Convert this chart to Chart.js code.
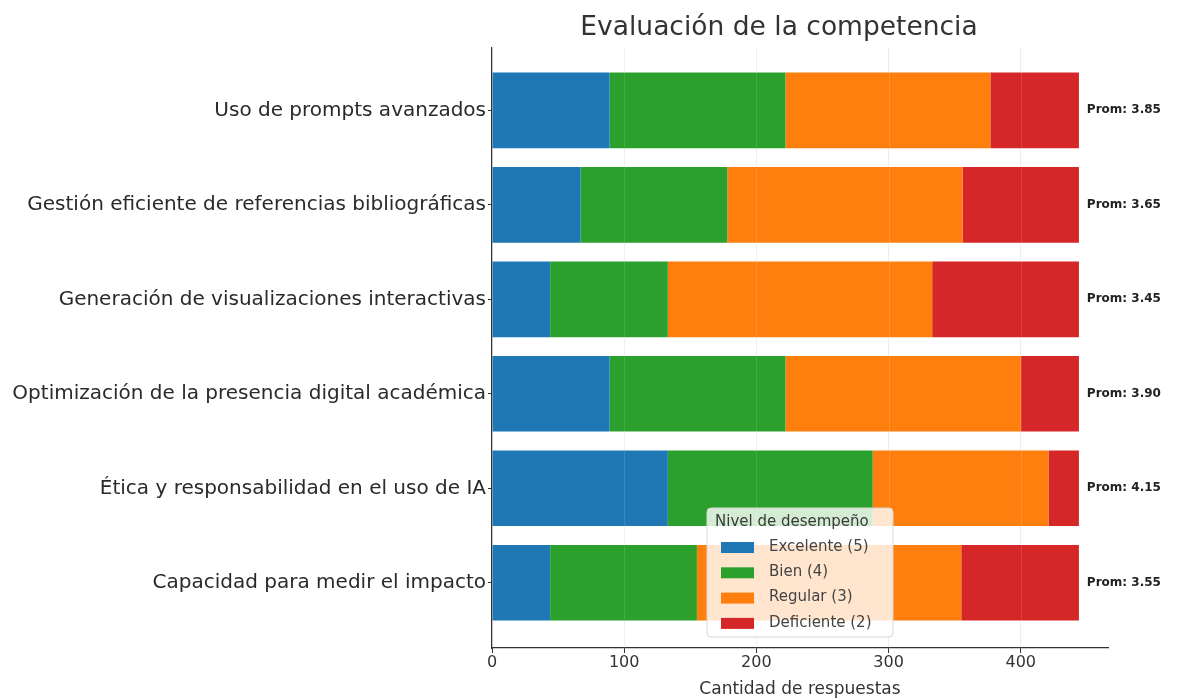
<!DOCTYPE html>
<html>
<head>
<meta charset="utf-8">
<script src="https://cdn.jsdelivr.net/npm/chart.js@4"></script>
<style>
    html, body { margin: 0; padding: 0; background: #fff; }
    #chart-wrap { width: 1200px; height: 700px; }
</style>
</head>
<body>
<div id="chart-wrap"><canvas id="chart-bar"></canvas></div>
<script>
// data
let categories = [
    'Uso de prompts avanzados',
    'Gestión eficiente de referencias bibliográficas',
    'Generación de visualizaciones interactivas',
    'Optimización de la presencia digital académica',
    'Ética y responsabilidad en el uso de IA',
    'Capacidad para medir el impacto'
];
let excelente = [89, 67, 44, 89, 133, 44];
let bien = [133, 111, 89, 133, 155, 111];
let regular = [155, 178, 200, 178, 133, 200];
let deficiente = [67, 88, 111, 44, 23, 89];
let promedios = ['3.85', '3.65', '3.45', '3.90', '4.15', '3.55'];
let xTicks = [0, 100, 200, 300, 400];

let seriesNames = ['Excelente (5)', 'Bien (4)', 'Regular (3)', 'Deficiente (2)'];
let seriesColors = ['#1f77b4', '#2ca02c', '#ff7f0e', '#d62728'];
let seriesValues = [excelente, bien, regular, deficiente];

let fontFamily = '"DejaVu Sans", sans-serif';

// build datasets as {x, y} points (y axis is linear so the padding matches)
let datasets = seriesValues.map((values, s) => ({
    label: seriesNames[s],
    data: values.map((v, i) => ({ x: v, y: i })),
    backgroundColor: seriesColors[s],
    borderWidth: 0,
    barPercentage: 0.8,
    categoryPercentage: 1
}));

// totals for the end labels
let totals = categories.map((c, i) => seriesValues.reduce((acc, arr) => acc + arr[i], 0));

// title, "Prom" labels and legend drawn on the canvas
let extrasPlugin = {
    id: 'extras',
    afterDatasetsDraw(chart) {
        let ctx = chart.ctx;
        let xScale = chart.scales.x;
        let yScale = chart.scales.y;
        ctx.save();

        // faint vertical grid over the bars
        ctx.strokeStyle = 'rgba(255,255,255,0.12)';
        ctx.lineWidth = 1;
        xTicks.slice(1).forEach(v => {
            let px = Math.round(xScale.getPixelForValue(v)) + 0.5;
            ctx.beginPath();
            ctx.moveTo(px, chart.chartArea.top);
            ctx.lineTo(px, chart.chartArea.bottom);
            ctx.stroke();
        });

        ctx.font = 'bold 12px ' + fontFamily;
        ctx.fillStyle = '#222';
        ctx.textAlign = 'left';
        ctx.textBaseline = 'middle';
        promedios.forEach((p, i) => {
            ctx.fillText('Prom: ' + p, xScale.getPixelForValue(totals[i] + 6), yScale.getPixelForValue(i));
        });
        ctx.restore();
    },
    afterDraw(chart) {
        let ctx = chart.ctx;
        let area = chart.chartArea;
        ctx.save();

        // title
        ctx.font = '26.5px ' + fontFamily;
        ctx.fillStyle = '#333';
        ctx.textAlign = 'center';
        ctx.textBaseline = 'middle';
        ctx.fillText('Evaluación de la competencia', 779, 28);

        // legend (lower center inside the plot)
        let w = 186, h = 129;
        let left = (area.left + area.right) / 2 - w / 2;
        let top = area.bottom - 11 - h;
        ctx.fillStyle = 'rgba(255,255,255,0.8)';
        ctx.strokeStyle = '#d6d6d6';
        ctx.lineWidth = 1;
        ctx.beginPath();
        ctx.roundRect(left, top, w, h, 4);
        ctx.fill();
        ctx.stroke();

        ctx.textAlign = 'left';
        ctx.fillStyle = '#3a3a3a';
        ctx.font = '15px ' + fontFamily;
        ctx.fillText('Nivel de desempeño', left + 8, top + 14);

        chart.data.datasets.forEach((ds, i) => {
            let rowY = top + 39 + i * 25.3;
            ctx.fillStyle = ds.backgroundColor;
            ctx.fillRect(left + 14, rowY - 5, 33, 11);
            ctx.fillStyle = '#444';
            ctx.fillText(ds.label, left + 62, rowY);
        });
        ctx.restore();
    }
};

let chartBar = document.getElementById('chart-bar').getContext('2d');

let barChart = new Chart(chartBar, {
    type: 'bar',
    data: { datasets: datasets },
    plugins: [extrasPlugin],
    options: {
        indexAxis: 'y',
        responsive: true,
        maintainAspectRatio: false,
        animation: false,
        layout: { padding: { top: 48, right: 92, left: 0, bottom: 0 } },
        plugins: {
            legend: { display: false },
            title: { display: false },
            tooltip: { enabled: false }
        },
        scales: {
            x: {
                type: 'linear',
                stacked: true,
                min: 0,
                max: 466,
                afterFit: (scale) => { scale.height = 52; },
                afterBuildTicks: (scale) => { scale.ticks = xTicks.map(v => ({ value: v })); },
                border: { display: true, color: '#333', width: 1.2 },
                grid: {
                    color: 'rgba(0,0,0,0.07)',
                    tickColor: '#333',
                    tickLength: 5
                },
                ticks: {
                    padding: 0,
                    color: '#333',
                    font: { family: fontFamily, size: 16 }
                },
                title: {
                    display: true,
                    text: 'Cantidad de respuestas',
                    color: '#333',
                    padding: { top: 0, bottom: 0 },
                    font: { family: fontFamily, size: 17 }
                }
            },
            y: {
                type: 'linear',
                stacked: true,
                reverse: true,
                offset: false,
                min: -0.66,
                max: 5.69,
                afterFit: (scale) => { scale.width = 492; },
                afterBuildTicks: (scale) => { scale.ticks = categories.map((c, i) => ({ value: i })); },
                border: { display: true, color: '#333', width: 1.2 },
                grid: {
                    offset: false,
                    drawOnChartArea: false,
                    tickColor: '#333',
                    tickLength: 4
                },
                ticks: {
                    padding: 2,
                    color: '#2a2a2a',
                    autoSkip: false,
                    font: { family: fontFamily, size: 20 },
                    callback: (value) => categories[value]
                }
            }
        }
    }
});
</script>
</body>
</html>
